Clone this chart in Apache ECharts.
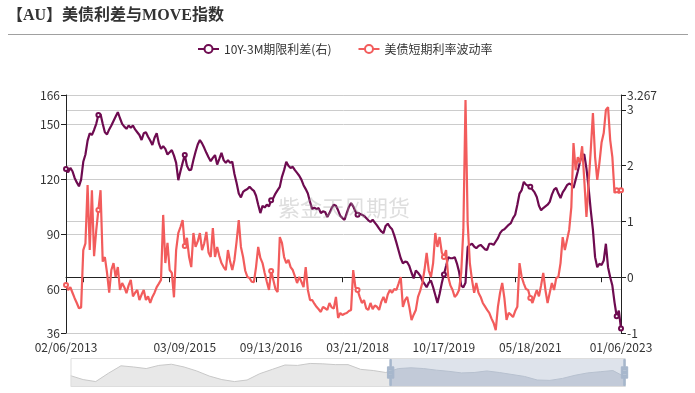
<!DOCTYPE html>
<html>
<head>
<meta charset="utf-8">
<script src="https://cdn.jsdelivr.net/npm/echarts@6/dist/echarts.min.js"></script>
<style>
html,body{margin:0;padding:0;background:#fff;}
#chart{width:695px;height:393px;}
</style>
</head>
<body>
<div id="chart"></div>
<script>
// ---- data ----
const titleText = '【AU】美债利差与MOVE指数';
const seriesNames = ['10Y-3M期限利差(右)', '美债短期利率波动率'];
// anchor dates of the category axis (labelled dates) and their category indices
const anchorDates = ['2013-02-06','2015-03-09','2016-09-13','2018-03-21','2019-10-17','2021-05-18','2023-01-06'];
const anchorIdx = [0,55,95,135,175,215,257];

// 10Y-3M term spread (right axis)
const spread = [
1.94,1.88,1.96,1.9,1.78,1.7,1.63,1.75,2.07,2.2,2.45,2.58,2.55,2.64,2.75,2.91,2.92,2.75,2.6,2.56,
2.65,2.72,2.8,2.88,2.96,2.85,2.75,2.7,2.66,2.72,2.68,2.72,2.65,2.6,2.55,2.46,2.58,2.6,2.52,2.45,
2.37,2.5,2.58,2.4,2.3,2.35,2.3,2.2,2.24,2.28,2.18,2.05,1.74,1.9,2.05,2.19,2.0,1.92,1.93,2.1,
2.25,2.38,2.46,2.4,2.32,2.23,2.15,2.08,2.14,2.19,2.02,2.12,2.23,2.1,2.05,2.1,2.05,2.07,1.85,1.69,
1.5,1.43,1.53,1.56,1.58,1.62,1.58,1.55,1.46,1.3,1.15,1.28,1.25,1.3,1.27,1.38,1.42,1.5,1.56,1.62,
1.8,1.92,2.07,2.0,1.96,1.98,1.92,1.87,1.82,1.75,1.65,1.58,1.5,1.35,1.22,1.25,1.22,1.24,1.15,1.18,
1.17,1.08,1.15,1.24,1.3,1.28,1.2,1.1,1.06,1.03,1.15,1.26,1.33,1.27,1.18,1.12,1.14,1.12,1.1,1.06,
1.02,0.99,1.03,0.98,0.93,0.87,0.82,0.79,0.92,0.96,0.9,0.86,0.75,0.62,0.48,0.34,0.25,0.28,0.27,0.2,
0.08,-0.02,0.12,0.08,0.03,-0.06,-0.12,-0.18,-0.1,-0.06,-0.18,-0.32,-0.46,-0.3,-0.11,0.05,0.2,0.36,0.34,0.34,
0.36,0.25,0.1,-0.15,-0.18,-0.1,0.54,0.58,0.6,0.55,0.52,0.56,0.58,0.54,0.5,0.49,0.6,0.6,0.58,0.64,
0.7,0.79,0.84,0.86,0.9,0.94,0.97,1.06,1.12,1.3,1.5,1.56,1.71,1.66,1.64,1.62,1.57,1.52,1.44,1.28,
1.2,1.24,1.27,1.3,1.35,1.48,1.57,1.6,1.5,1.42,1.52,1.58,1.65,1.68,1.66,1.6,1.75,1.9,2.07,2.2,
2.2,1.95,1.6,1.2,0.85,0.36,0.18,0.24,0.22,0.3,0.6,0.18,0.0,-0.15,-0.45,-0.7,-0.6,-0.92
];
// short-term rate volatility (MOVE, left axis)
const move = [
62.2,59.5,61,58,55,52.4,49.5,50,81.3,85,116.8,81.3,114,78,92,103.2,114,75,77.5,68.8,
58,70.4,74.2,66.6,72,59.5,63.3,61,57.8,62,65,56,58,59.5,54,57,59.5,54,56,52.4,
55.7,58,61.1,63,65,100.5,74.2,85.2,70.4,68.8,55.5,81.3,90.6,93.9,97.7,83.5,88,77.5,72,90.6,
83,86,90.6,81.3,85,91.2,80,77.5,93.3,77.5,83,78,74.2,72,70.4,81.3,75,70.4,75.9,86,
97.7,83,77.5,70,66.6,66,64,63.8,72,83,77,74.2,68.8,64,59.5,69.9,65,60,58.4,88.4,
85.2,77.5,74.2,76,72,70.4,67,63.3,66.6,64,61.1,72,59.5,54,54,52,50.3,49,47.5,50.3,
49.5,48.6,52.4,50,49.4,55.7,44.2,46.9,45.8,46.5,46.9,48,48.6,70.4,61.1,59.5,55.7,52.4,54,49.5,
48.6,52.4,49,51,50.3,48.6,53,55.7,52.4,57,59.5,58,60,59.5,63,66.6,50.3,54,55.7,50,
43.1,46,48.6,55.7,59,63.3,70.4,79.7,70,66.6,74.2,90.6,83,88.4,80,77.5,81.3,66.6,62,59.5,
55.7,57,59.5,68.8,92.3,163.3,96.1,74.2,65,58,63.3,58,55.7,52.4,50.5,48.6,47,44,41.5,37.6,
50.3,58,63.3,55,43.1,47,46,44.7,48,50.3,74.2,66.6,63,60,59.5,55.1,52.4,56,59.5,56,
62,68.8,59.5,52.4,58,63.3,59.5,66,66.6,74.2,88.4,81.3,86.8,92.3,104.8,139.8,125,132.1,128.8,138,
119.6,99.4,117.9,136,156.2,132.1,119.6,128.8,140,145.2,157.8,159.4,141.4,132.1,112.5,114,112.5,114
];
// overview curve drawn in the slider (relative level read from the slider shadow)
const sliderShadow = [
0.2,-0.8,-1.3,0.8,2.7,2.4,2.0,2.8,3.1,2.4,1.4,0.1,-0.8,-1.3,-0.9,0.7,1.8,2.9,2.8,3.3,
3.2,3.0,3.0,1.8,1.5,1.0,2.0,2.2,2.0,1.6,1.3,0.9,1.0,1.4,1.0,0.5,0.0,-0.9,-1.0,-0.5,
0.3,0.9,1.2,1.5,-0.2
];
const watermark = '紫金天风期货';

// ---- build categories ----
function pad(n){return (n<10?'0':'')+n;}
function fmt(t){const d=new Date(t);return pad(d.getUTCMonth()+1)+'/'+pad(d.getUTCDate())+'/'+d.getUTCFullYear();}
const dates = [];
for (let s=0;s<anchorDates.length-1;s++){
  const d0=Date.parse(anchorDates[s]+'T00:00:00Z'), d1=Date.parse(anchorDates[s+1]+'T00:00:00Z');
  const n=anchorIdx[s+1]-anchorIdx[s];
  for (let k=0;k<n;k++){
    const day=Math.round((d1-d0)/86400000*k/n);
    dates.push(fmt(d0+day*86400000));
  }
}
dates.push(fmt(Date.parse(anchorDates[anchorDates.length-1]+'T00:00:00Z')));
const last = dates.length-1;
const shadowCats = sliderShadow.map((v,i)=>String(i));

const purple = '#6e0b50';
const red = '#f25c5c';
const font = '"Noto Sans CJK SC","Noto Sans",sans-serif';

const chart = echarts.init(document.getElementById('chart'), null, {renderer:'canvas'});
chart.setOption({
  animation:false,
  backgroundColor:'#fff',
  textStyle:{fontFamily:font},
  graphic:[
    {type:'text', left:7, top:8, style:{text:titleText, font:'bold 16px "Liberation Serif","Noto Sans CJK SC",serif', fill:'#333'}},
    {type:'line', shape:{x1:8,y1:34.5,x2:688,y2:34.5}, style:{stroke:'#a0a0a0', lineWidth:1}},
    {type:'text', left:278, top:197, z:100, style:{text:watermark, font:'22px "Noto Sans CJK SC",sans-serif', fill:'rgba(160,160,160,0.35)'}}
  ],
  legend:{
    data:seriesNames, top:38, left:192, itemWidth:21, itemHeight:10, itemGap:26,
    textStyle:{fontSize:12, color:'#333', fontFamily:font}
  },
  grid:{left:66, right:74, top:95, bottom:60, containLabel:false},
  xAxis:[
    {type:'category', data:dates, boundaryGap:false, gridIndex:0,
     axisLine:{show:false, onZero:false}, axisTick:{show:false}, splitLine:{show:false},
     axisLabel:{color:'#333', fontSize:12, margin:8,
       interval:function(idx){return idx===0||idx===last||idx%40===15;},
       formatter:function(v,idx){ if(idx!==0&&idx<40) return ''; if(idx!==last&&idx>last-10) return ''; return v; }}},
    {type:'category', data:dates, boundaryGap:false, gridIndex:0, position:'bottom',
     axisLine:{show:true, onZero:true, onZeroAxisIndex:1, lineStyle:{color:'#222', width:1}},
     axisTick:{show:true, length:5, lineStyle:{color:'#222'}, interval:function(idx){return idx%40===8;}},
     axisLabel:{show:false}, splitLine:{show:false}},
    {type:'category', data:shadowCats, show:false, boundaryGap:false, gridIndex:0}
  ],
  yAxis:[
    {type:'value', min:36, max:166, position:'left',
     axisLine:{show:true, lineStyle:{color:'#222'}}, axisTick:{show:true, length:5, lineStyle:{color:'#222'}},
     axisLabel:{color:'#333', fontSize:12, margin:6},
     splitLine:{show:true, lineStyle:{color:'#cccccc'}}},
    {type:'value', min:-1, max:3.267, position:'right',
     axisLine:{show:true, lineStyle:{color:'#222'}}, axisTick:{show:true, length:5, lineStyle:{color:'#222'}},
     axisLabel:{color:'#333', fontSize:12, margin:6},
     splitLine:{show:true, lineStyle:{color:'#cccccc'}}},
    {type:'value', show:false, splitLine:{show:false}}
  ],
  dataZoom:[{
    type:'slider', xAxisIndex:2, start:57.5, end:100, left:68, right:72, top:358, height:29,
    showDetail:false, brushSelect:false, moveHandleSize:0, zoomLock:false,
    backgroundColor:'rgba(0,0,0,0)', borderColor:'#dddddd',
    fillerColor:'rgba(190,200,215,0.5)',
    handleIcon:'path://M8.2,13.6V3.9H6.3v9.7H3.1v14.9h3.3v9.7h1.8v-9.7h3.3V13.6H8.2z M9.7,24.4H4.8v-1.4h4.9V24.4z M9.7,19.1H4.8v-1.4h4.9V19.1z',
    handleSize:'90%',
    handleStyle:{color:'#a7b7cc', borderColor:'#a7b7cc'},
    dataBackground:{lineStyle:{color:'#c8c8c8', width:1}, areaStyle:{color:'#e8e8e8', opacity:1}},
    selectedDataBackground:{lineStyle:{color:'#b0b9c6', width:1}, areaStyle:{color:'#c6cdd8', opacity:1}},
    showDataShadow:true
  }],
  series:[
    {name:seriesNames[0], type:'line', xAxisIndex:0, yAxisIndex:1, data:spread,
     symbol:'emptyCircle', symbolSize:4, showSymbol:true, showAllSymbol:'auto',
     lineStyle:{color:purple, width:2.2}, itemStyle:{color:purple, borderWidth:1}},
    {name:seriesNames[1], type:'line', xAxisIndex:0, yAxisIndex:0, data:move,
     symbol:'emptyCircle', symbolSize:4, showSymbol:true, showAllSymbol:'auto',
     lineStyle:{color:red, width:2.2}, itemStyle:{color:red, borderWidth:1}},
    {name:'overview', type:'line', xAxisIndex:2, yAxisIndex:2, data:sliderShadow,
     showSymbol:false, silent:true, lineStyle:{opacity:0}, tooltip:{show:false}}
  ]
});
</script>
</body>
</html>
